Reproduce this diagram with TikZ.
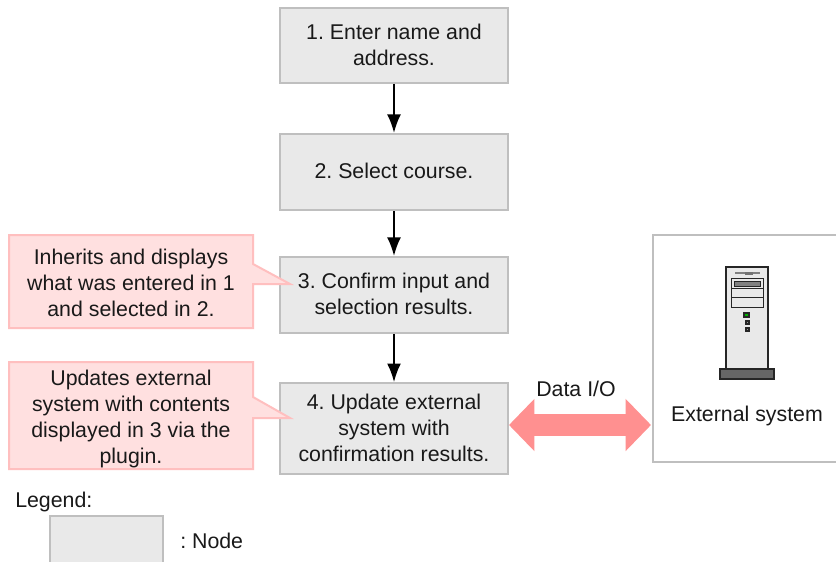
\documentclass[tikz,border=0pt]{standalone}
\usepackage{fontspec}
\setmainfont{Liberation Sans}
\usetikzlibrary{arrows.meta}
\definecolor{boxfill}{HTML}{E9E9E9}
\definecolor{boxline}{HTML}{BFBFBF}
\definecolor{notefill}{HTML}{FFE0E0}
\definecolor{noteline}{HTML}{FFBFBF}
\definecolor{dataio}{HTML}{FF9090}
\tikzset{
  every node/.style={font=\fontsize{16}{19.5}\selectfont\frenchspacing, align=center, text=black!90},
  stepbox/.style={draw=boxline, fill=boxfill, line width=1.5pt, minimum width=171pt, inner sep=0pt, text depth=1.5pt},
  notebox/.style={draw=noteline, fill=notefill, line width=1.5pt, line join=miter},
  flowarrow/.style={black, line width=1.5pt, -{Latex[length=14pt,width=10.5pt]}},
  dataarrow/.style={dataio, line width=16.5pt, {Triangle[length=19pt,width=38pt]}-{Triangle[length=19pt,width=38pt]}},
  server/.style={draw=black!85, line width=1pt},
}
\begin{document}
\begin{tikzpicture}[x=0.75pt,y=-0.75pt]
\clip (0,0) rectangle (836,561);
\fill[white] (0,0) rectangle (836,561);
\node[stepbox, minimum height=56pt] (enter) at (394,45.5) {1. Enter name and\\address.};
\node[stepbox, minimum height=57pt] (course) at (394,172) {2. Select course.};
\node[stepbox, minimum height=57pt] (confirm) at (394,295) {3. Confirm input and\\selection results.};
\node[stepbox, minimum height=68pt] (update) at (394,428.5) {4. Update external\\system with\\confirmation results.};
\draw[flowarrow] (enter) -- (course);
\draw[flowarrow] (course) -- (confirm);
\draw[flowarrow] (confirm) -- (update);
\draw[notebox] (9,235) -- (253,235) -- (253,264) -- (290,284) -- (253,284) -- (253,328) -- (9,328) -- cycle;
\node (inherit) at (131,283) {Inherits and displays\\what was entered in 1\\and selected in 2.};
\draw[notebox] (9,362) -- (253,362) -- (253,397) -- (290,418) -- (253,418) -- (253,469) -- (9,469) -- cycle;
\node (plugin) at (131,419) {Updates external\\system with contents\\displayed in 3 via the\\plugin.};
\node[draw=boxline, fill=white, line width=1.5pt, minimum width=165pt, minimum height=170pt, inner sep=0pt] (extsys) at (763,348.5) {};
\draw[dataarrow] (update.east |- 0,425) -- ([xshift=-0.75pt]extsys.west |- 0,425);
\node (dataio) at (576,389) {Data I/O};
% server icon
\draw[server, fill=boxfill] (726,267) rectangle (768,369);
\draw[server, fill=black!60] (720,369) rectangle (774,379);
\draw[black!50, line width=1pt] (735,273) -- (760,273);
\fill[black!55] (745,271.5) rectangle (753,274.5);
\draw[server, line width=.6pt, fill=boxfill] (731,278) rectangle (763,307);
\draw[server, line width=.6pt] (731,288) -- (763,288);
\draw[server, line width=.6pt] (731,297) -- (763,297);
\draw[server, line width=.6pt, fill=black!50] (734,281) rectangle (760,286);
\draw[server, line width=.8pt, fill=green!70!black] (744,313) rectangle (749,317);
\draw[server, line width=.9pt, fill=black!40] (746,321) rectangle (749,324);
\draw[server, line width=.9pt, fill=black!40] (746,328) rectangle (749,331);
\node (extlabel) at (747,416) {External system};
\node[anchor=west, inner sep=0pt] (legend) at (15,502) {Legend:};
\node[stepbox, minimum width=85pt, minimum height=57pt] (legendbox) at (106.5,554) {};
\node[anchor=west, inner sep=0pt] (legendtext) at (180,541) {: Node};
\end{tikzpicture}
\end{document}
